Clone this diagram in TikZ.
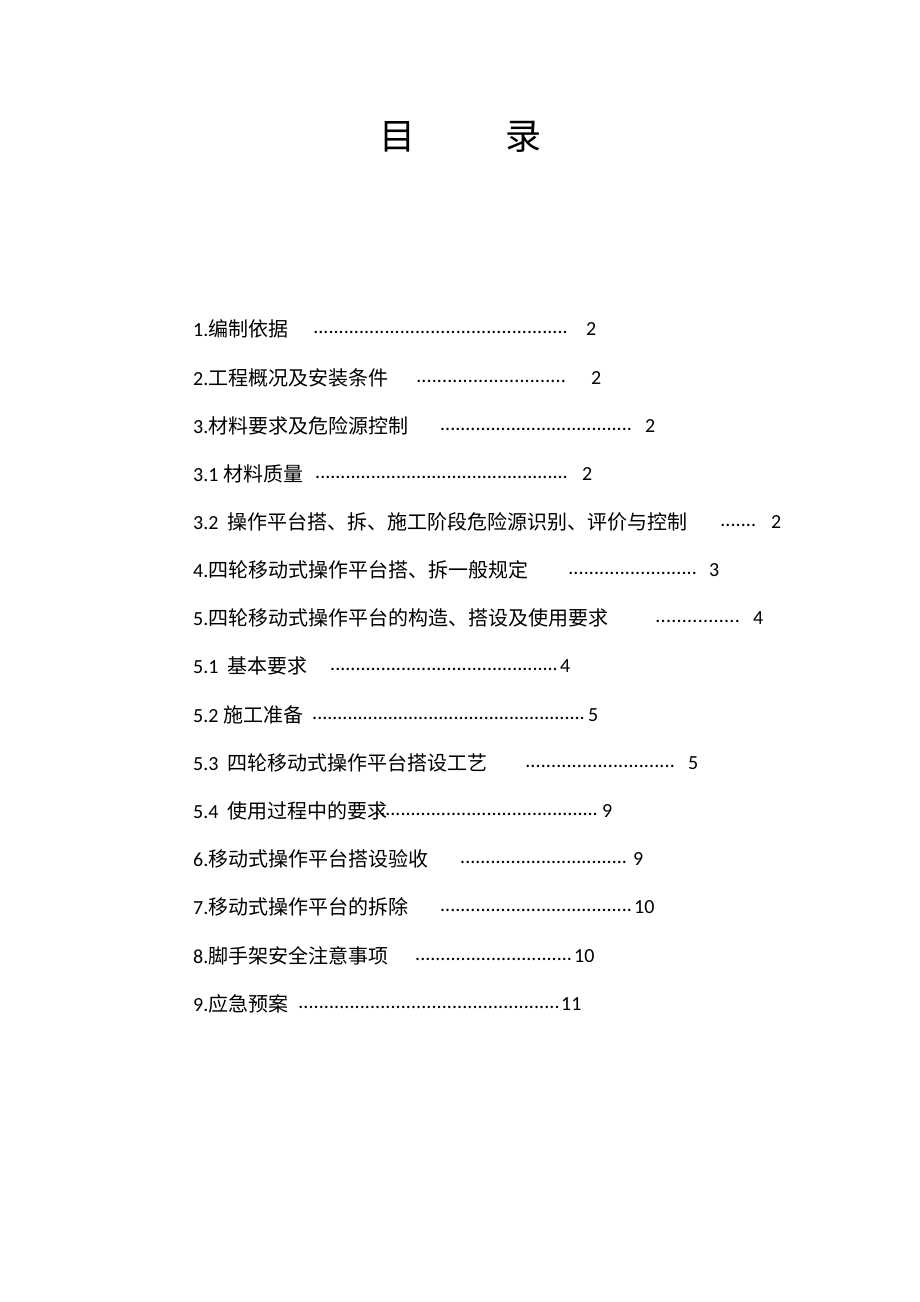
\documentclass[tikz,border=0pt]{standalone}
\usepackage{fontspec}
\setmainfont{Carlito}
\newfontfamily\cjk{Noto Sans CJK SC}
\newcommand{\lead}[1]{\hbox to #1pt{\xleaders\hbox{.}\hfill}}
\tikzset{
  entry/.style={anchor=west, inner sep=0pt, font=\fontsize{20}{24}\selectfont},
  titlechar/.style={inner sep=0pt, font=\cjk\fontsize{36}{40}\selectfont}
}
\begin{document}
\begin{tikzpicture}[x=1pt,y=-1pt]
  \fill[white] (0,0) rectangle (920,1302);
  \useasboundingbox (0,0) rectangle (920,1302);
  % title
  \node[titlechar] (tmu) at (397,137) {目};
  \node[titlechar] (tlu) at (523,137) {录};
  % entries: y, label, dot start, dot end, page x, page
  \foreach \y/\lbl/\ds/\de/\px/\pg [count=\i] in {
    329/{1.{\cjk 编制依据}}/313/568/586/2,
    378/{2.{\cjk 工程概况及安装条件}}/416/566/591/2,
    426/{3.{\cjk 材料要求及危险源控制}}/440/632/645/2,
    474/{3.1 {\cjk 材料质量}}/315/568/582/2,
    522/{3.2 \ {\cjk 操作平台搭、拆、施工阶段危险源识别、评价与控制}}/720/756/771/2,
    570/{4.{\cjk 四轮移动式操作平台搭、拆一般规定}}/568/697/709/3,
    618/{5.{\cjk 四轮移动式操作平台的构造、搭设及使用要求}}/655/740/753/4,
    666/{5.1 \ {\cjk 基本要求}}/330/558/560/4,
    715/{5.2 {\cjk 施工准备}}/312/585/588/5,
    763/{5.3 \ {\cjk 四轮移动式操作平台搭设工艺}}/525/675/688/5,
    811/{5.4 \ {\cjk 使用过程中的要求}}/375/598/602/9,
    859/{6.{\cjk 移动式操作平台搭设验收}}/460/627/633/9,
    907/{7.{\cjk 移动式操作平台的拆除}}/440/632/634/10,
    956/{8.{\cjk 脚手架安全注意事项}}/415/572/574/10,
    1004/{9.{\cjk 应急预案}}/298/560/561/11} {
    \node[entry] (lbl\i) at (193,\y) {\lbl};
    \pgfmathsetmacro{\dw}{\de-\ds}
    \node[entry] (dots\i) at (\ds,\y+3) {\lead{\dw}};
    \node[entry] (pg\i) at (\px,\y) {\pg};
  }
\end{tikzpicture}
\end{document}
